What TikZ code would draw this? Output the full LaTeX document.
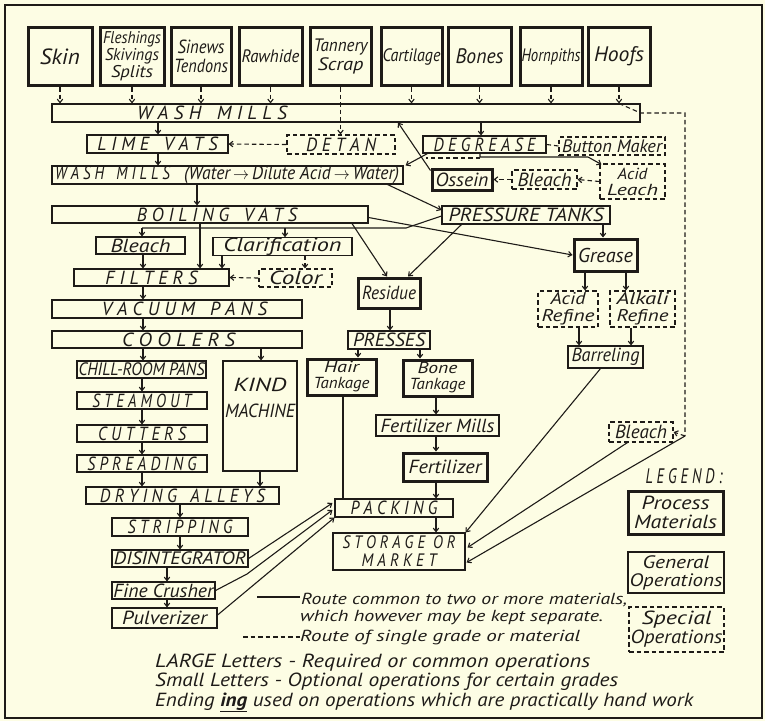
\documentclass[tikz,border=0pt]{standalone}
\usepackage{fontspec}
\setmainfont{PT Sans}
\usepackage{graphicx}
\usetikzlibrary{arrows.meta,calc}
\definecolor{paper}{RGB}{253,253,228}
\definecolor{ink}{RGB}{30,27,24}
\newcommand\W[2]{\resizebox{#1pt}{\height}{#2}}
\newcommand\fs[2]{\fontsize{#1}{#2}\selectfont\itshape}
\begin{document}
\begin{tikzpicture}[x=1pt,y=-1pt,
  gen/.style={draw=ink, line width=1.1pt, inner sep=0pt, text=ink, font=\fs{19}{19}, align=center},
  mat/.style={gen, line width=3pt},
  spec/.style={gen, dash pattern=on 4.5pt off 3pt},
  conn/.style={draw=ink, line width=1.1pt, -{Straight Barb[length=3.5pt,width=5.5pt]}},
  dconn/.style={conn, dash pattern=on 4.5pt off 3pt},
  ln/.style={draw=ink, line width=1.1pt},
  dln/.style={ln, dash pattern=on 4.5pt off 3pt},
  txt/.style={text=ink, inner sep=0pt, font=\fs{16}{16}}]
\fill[paper] (0,0) rectangle (765,721);
\useasboundingbox (0,0) rectangle (765,721);
\coordinate (fr1) at (5,5);
\coordinate (fr2) at (762,718);
\draw[ink, line width=2.2pt] (fr1) rectangle (fr2);

% raw materials
\node[mat, minimum width=64, minimum height=58, font=\fs{22}{22}] (skin) at (60,56.5) {\W{40}{Skin}};
\node[mat, minimum width=64, minimum height=58, font=\fs{17}{17}] (flesh) at (132,56.5) {\W{58}{Fleshings}\\\W{54}{Skivings}\\\W{42}{Splits}};
\node[mat, minimum width=60, minimum height=58, font=\fs{19}{19}] (sinews) at (201,56.5) {\W{47}{Sinews}\\\W{54}{Tendons}};
\node[mat, minimum width=63, minimum height=58, font=\fs{18}{18}] (rawhide) at (270.5,56.5) {\W{58}{Rawhide}};
\node[mat, minimum width=61, minimum height=58, font=\fs{18}{19}] (tannery) at (340.5,56.5) {\W{54}{Tannery}\\\W{46}{Scrap}};
\node[mat, minimum width=61, minimum height=58, font=\fs{18}{18}] (cartilage) at (411.5,56.5) {\W{58}{Cartilage}};
\node[mat, minimum width=63, minimum height=58, font=\fs{21}{21}] (bones) at (479.5,56.5) {\W{48}{Bones}};
\node[mat, minimum width=62, minimum height=58, font=\fs{18}{18}] (hornpiths) at (551,56.5) {\W{59}{Hornpiths}};
\node[mat, minimum width=62, minimum height=58, font=\fs{21}{21}] (hoofs) at (619,56.5) {\W{50}{Hoofs}};

% operations
\node[gen, minimum width=588, minimum height=18] (wm1) at (346,113) {\makebox[588pt][l]{\hspace*{85pt}\W{150}{W A S H \ \ M I L L S}}};
\node[gen, minimum width=141, minimum height=18] (lime) at (157.5,144) {\W{120}{L I M E \ \ V A T S}};
\node[spec, minimum width=108, minimum height=19] (detan) at (341,144.5) {\W{70}{D E T A N}};
\node[gen, minimum width=351, minimum height=18] (wm2) at (227.5,175) {\makebox[351pt][l]{\hspace*{3pt}\W{115}{W A S H \ \ M I L L S}\hspace*{14pt}\W{215}{(Water\,$\rightarrow$\,Dilute Acid\,$\rightarrow$\,Water)}}};
\node[gen, minimum width=123, minimum height=17] (degrease) at (484.5,144.5) {\W{102}{D E G R E A S E}};
\node[spec, minimum width=106, minimum height=18, font=\fs{18}{18}] (button) at (612,146) {\W{100}{Button Maker}};
\node[spec, minimum width=65, minimum height=35, font=\fs{16}{16}] (acidleach) at (632.5,181.5) {\W{30}{Acid}\\\W{51}{Leach}};
\node[spec, minimum width=65, minimum height=19] (bleachA) at (544.5,179.5) {\W{54}{Bleach}};
\node[mat, minimum width=60, minimum height=21] (ossein) at (462,179.5) {\W{53}{Ossein}};
\node[gen, minimum width=316, minimum height=17] (boiling) at (210,214.5) {\makebox[316pt][l]{\hspace*{85pt}\W{160}{B O I L I N G \ \ V A T S}}};
\node[gen, minimum width=168, minimum height=18] (pressure) at (526,215) {\W{155}{PRESSURE TANKS}};
\node[mat, minimum width=63, minimum height=32, font=\fs{20}{20}] (grease) at (605.5,255) {\W{55}{Grease}};
\node[gen, minimum width=89, minimum height=17] (bleachB) at (140.5,245.5) {\W{60}{Bleach}};
\node[gen, minimum width=139, minimum height=17] (clarif) at (282.5,246.5) {\W{118}{Clarification}};
\node[gen, minimum width=155, minimum height=17] (filters) at (151.5,277.5) {\W{92}{F I L T E R S}};
\node[spec, minimum width=73, minimum height=18] (color) at (295.5,278) {\W{53}{Color}};
\node[mat, minimum width=62, minimum height=30] (residue) at (389,293) {\W{54}{Residue}};
\node[spec, minimum width=60, minimum height=36, font=\fs{17}{17}] (acidref) at (568,309) {\W{35}{Acid}\\\W{53}{Refine}};
\node[spec, minimum width=65, minimum height=36, font=\fs{17}{17}] (alkref) at (642.5,309) {\W{52}{Alkali}\\\W{52}{Refine}};
\node[gen, minimum width=250, minimum height=18] (vacuum) at (177,309) {\makebox[250pt][l]{\hspace*{50pt}\W{165}{V A C U U M \ \ P A N S}}};
\node[gen, minimum width=250, minimum height=17] (coolers) at (177,339.5) {\makebox[250pt][l]{\hspace*{70pt}\W{113}{C O O L E R S}}};
\node[gen, minimum width=82, minimum height=18] (presses) at (389,340) {\W{72}{PRESSES}};
\node[gen, minimum width=75, minimum height=22] (barreling) at (605.5,357) {\W{68}{Barreling}};
\node[gen, minimum width=129, minimum height=17, font=\fs{18}{18}] (chill) at (141.5,369.5) {\W{126}{CHILL-ROOM PANS}};
\node[gen, minimum width=74, minimum height=110, font=\fs{19}{26}] (kind) at (260,416) {\W{53}{KIND}\\\W{70}{MACHINE}\\[10pt]};
\node[mat, minimum width=69, minimum height=36, font=\fs{16}{16}] (hair) at (341.5,377) {\W{35}{Hair}\\\W{56}{Tankage}};
\node[mat, minimum width=69, minimum height=36, font=\fs{16}{16}] (bone) at (437.5,378) {\W{40}{Bone}\\\W{56}{Tankage}};
\node[gen, minimum width=130, minimum height=17] (steamout) at (142,400.5) {\W{99}{S T E A M O U T}};
\node[gen, minimum width=123, minimum height=21] (fertmills) at (437.5,425.5) {\W{114}{Fertilizer Mills}};
\node[spec, minimum width=64, minimum height=20] (bleachC) at (641,432) {\W{52}{Bleach}};
\node[gen, minimum width=130, minimum height=17] (cutters) at (142,433.5) {\W{88}{C U T T E R S}};
\node[mat, minimum width=84, minimum height=28] (fertilizer) at (445,467) {\W{73}{Fertilizer}};
\node[gen, minimum width=130, minimum height=17] (spreading) at (142,463.5) {\W{109}{S P R E A D I N G}};
\node[gen, minimum width=193, minimum height=17] (drying) at (182.5,495.5) {\W{165}{D R Y I N G \ \ A L L E Y S}};
\node[gen, minimum width=118, minimum height=18] (packing) at (394,508) {\W{87}{P A C K I N G}};
\node[gen, minimum width=136, minimum height=18] (stripping) at (180,527) {\W{105}{S T R I P P I N G}};
\node[gen, minimum width=132, minimum height=37, font=\fs{18}{18}] (storage) at (399,551.5) {\W{113}{S T O R A G E \ O R}\\\W{75}{M A R K E T}};
\node[gen, minimum width=136, minimum height=17, font=\fs{18}{18}] (disint) at (180,558.5) {\W{132}{DISINTEGRATOR}};
\node[gen, minimum width=103, minimum height=17] (fine) at (163.5,590.5) {\W{100}{Fine Crusher}};
\node[gen, minimum width=105, minimum height=20] (pulv) at (164.5,618) {\W{85}{Pulverizer}};

% legend
\node[txt, font=\fs{21}{21}] (legend) at (684,476) {\W{77}{L E G E N D :}};
\node[mat, minimum width=95, minimum height=43, font=\fs{19}{19}] (lproc) at (675.5,512.5) {\W{68}{Process}\\\W{83}{Materials}};
\node[gen, minimum width=96, minimum height=41, font=\fs{18}{18}] (lgen) at (676,572.5) {\W{67}{General}\\\W{93}{Operations}};
\node[spec, minimum width=95, minimum height=45, font=\fs{19}{19}] (lspec) at (676.5,629.5) {\W{70}{Special}\\\W{92}{Operations}};
\coordinate (ls1) at (257,597); \coordinate (ls2) at (300,597);
\coordinate (ld1) at (243,637); \coordinate (ld2) at (300,637);
\draw[ln] (ls1) -- (ls2);
\draw[dln] (ld1) -- (ld2);
\node[txt, anchor=base west] (t1) at (301,604) {\W{326}{Route common to two or more materials,}};
\node[txt, anchor=base west] (t2) at (300,621) {\W{303}{which however may be kept separate.}};
\node[txt, anchor=base west] (t3) at (300,641) {\W{280}{Route of single grade or material}};
\node[txt, anchor=base west, font=\fs{19}{19}] (t4) at (155,667) {\W{435}{LARGE Letters - Required or common operations}};
\node[txt, anchor=base west, font=\fs{19}{19}] (t5) at (155,686) {\W{463}{Small Letters - Optional operations for certain grades}};
\node[txt, anchor=base west, font=\fs{19}{19}] (t6) at (155,706) {\W{538}{Ending \underline{\bfseries ing} used on operations which are practically hand work}};

% raw material arrows
\foreach \n in {skin,flesh,sinews,rawhide,cartilage,bones,hornpiths,hoofs}
  \draw[dconn] (\n.south) -- (\n.south |- wm1.north);
\draw[dconn] (tannery.south) -- (tannery.south |- detan.north);
\coordinate (hc) at (685,436);
\draw[dln] (hoofs.south |- wm1.north) -- (wm1.east) -- (hc |- wm1.east) -- (hc);
\draw[dconn] (hc) -- (bleachC.east);
\draw[conn] (hc) -- ($(storage.east)+(1,11)$);
\draw[conn] ($(bleachC.south west)+(19,0)$) -- ($(storage.east)+(2,-4)$);
\draw[conn] ($(barreling.south)+(-5,0)$) -- (storage.north east);

% upper part
\draw[conn] (158,0 |- wm1.south) -- (158,0 |- lime.north);
\draw[dconn] (detan.west) -- (lime.east);
\draw[conn] (158,0 |- lime.south) -- (158,0 |- wm2.north);
\draw[conn] (481,0 |- wm1.south) -- (481,0 |- degrease.north);
\draw[dln] (degrease.east) -- (button.west);
\draw[conn] (480,0 |- degrease.south) -- (480,157) -- (588,157) -- ($(acidleach.north west)+(2,1)$);
\draw[dln] (480,158) -- (426,158);
\draw[conn] ($(degrease.south west)+(5,0)$) -- ($(wm2.north east)+(2,0)$);
\draw[conn] ($(ossein.north west)+(0,3)$) -- (398,0 |- wm1.south);
\draw[dconn] (acidleach.west) -- (bleachA.east);
\draw[dconn] (bleachA.west) -- (ossein.east);
\draw[conn] ($(wm2.south east)+(-16,0)$) -- ($(pressure.west)+(0,-5)$);
\draw[conn] (197,0 |- wm2.south) -- (197,0 |- boiling.north);
\draw[conn] (200,0 |- boiling.south) -- (200,0 |- filters.north);
\draw[ln] ($(pressure.west)+(0,1)$) -- (406,228) -- (142,228);
\draw[conn] (142,228) -- (142,0 |- bleachB.north);
\draw[conn] (285,228) -- (285,0 |- clarif.north);
\draw[conn] (352,0 |- boiling.south) -- ($(residue.north)+(-2,0)$);
\draw[conn] ($(pressure.south west)+(20,0)$) -- ($(residue.north)+(19,0)$);
\draw[conn] ($(boiling.east)+(0,3)$) -- (grease.west);
\draw[conn] (603,0 |- pressure.south) -- (603,0 |- grease.north);

% left column
\draw[conn] (143,0 |- bleachB.south) -- (143,0 |- filters.north);
\draw[conn] (222,0 |- clarif.south) -- (222,0 |- filters.north);
\draw[dconn] (305,0 |- clarif.south) -- (305,0 |- color.north);
\draw[dconn] (color.west) -- (filters.east);
\draw[conn] (143,0 |- filters.south) -- (143,0 |- vacuum.north);
\draw[conn] (143,0 |- vacuum.south) -- (143,0 |- coolers.north);
\draw[conn] (143,0 |- coolers.south) -- (143,0 |- chill.north);
\draw[conn] (261,0 |- coolers.south) -- (261,0 |- kind.north);
\draw[conn] (142,0 |- chill.south) -- (142,0 |- steamout.north);
\draw[conn] (142,0 |- steamout.south) -- (142,0 |- cutters.north);
\draw[conn] (142,0 |- cutters.south) -- (142,0 |- spreading.north);
\draw[conn] (142,0 |- spreading.south) -- (142,0 |- drying.north);
\draw[conn] (260,0 |- kind.south) -- (260,0 |- drying.north);
\draw[conn] (180,0 |- drying.south) -- (180,0 |- stripping.north);
\draw[conn] (180,0 |- stripping.south) -- (180,0 |- disint.north);
\draw[conn] (167,0 |- disint.south) -- (167,0 |- fine.north);
\draw[conn] (167,0 |- fine.south) -- (167,0 |- pulv.north);
\draw[conn] (disint.east) -- ($(packing.west)+(-2,-5)$);
\draw[conn] (fine.east) -- (247,574) -- ($(packing.west)+(-2,2)$);
\draw[conn] ($(pulv.east)+(0,-3)$) -- (packing.south west);

% right middle
\draw[conn] (585,0 |- grease.south) -- (585,0 |- acidref.north);
\draw[conn] (626,0 |- grease.south) -- (626,0 |- alkref.north);
\draw[conn] (579,0 |- acidref.south) -- (579,0 |- barreling.north);
\draw[conn] (631,0 |- alkref.south) -- (631,0 |- barreling.north);
\draw[conn] (390,0 |- residue.south) -- (390,0 |- presses.north);
\draw[conn] (358,0 |- presses.south) -- (358,0 |- hair.north);
\draw[conn] (420,0 |- presses.south) -- (420,0 |- bone.north);
\draw[ln] (343,0 |- hair.south) -- (343,0 |- packing.north);
\draw[conn] (436,0 |- bone.south) -- (436,0 |- fertmills.north);
\draw[conn] (436,0 |- fertmills.south) -- (436,0 |- fertilizer.north);
\draw[conn] (436,0 |- fertilizer.south) -- (436,0 |- packing.north);
\draw[conn] (436,0 |- packing.south) -- (436,0 |- storage.north);
\end{tikzpicture}
\end{document}
